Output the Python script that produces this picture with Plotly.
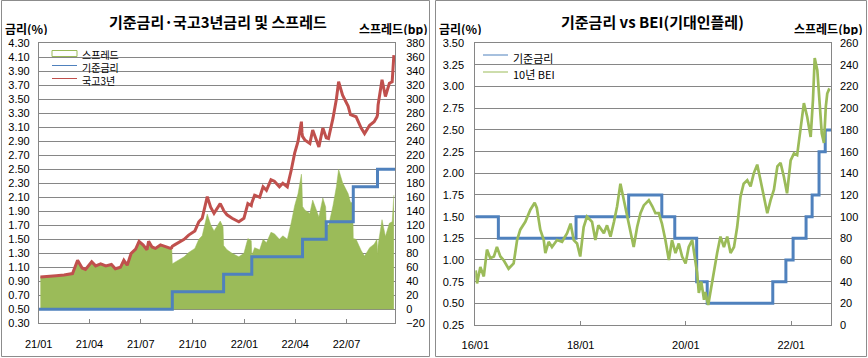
import bisect
import plotly.graph_objects as go

# ---------------- data ----------------
# Korean base rate history (change dates and levels)
base_dates = ["2016-01-01", "2016-06-09", "2017-11-30", "2018-11-30", "2019-07-18",
              "2019-10-16", "2020-03-16", "2020-05-28", "2021-08-26", "2021-11-25",
              "2022-01-14", "2022-04-14", "2022-05-26", "2022-07-13", "2022-08-25"]
base_levels = [1.50, 1.25, 1.50, 1.75, 1.50, 1.25, 0.75, 0.50, 0.75, 1.00,
               1.25, 1.50, 1.75, 2.25, 2.50]

# 국고3년 (%)
kr3y_dates = ["2021-01-04", "2021-01-14", "2021-02-01", "2021-02-15", "2021-03-02", "2021-03-11",
              "2021-03-19", "2021-03-25", "2021-04-05", "2021-04-12", "2021-04-21", "2021-04-30",
              "2021-05-10", "2021-05-17", "2021-05-26", "2021-06-01", "2021-06-07", "2021-06-14",
              "2021-06-22", "2021-06-28", "2021-07-05", "2021-07-12", "2021-07-15", "2021-07-21",
              "2021-07-27", "2021-08-05", "2021-08-13", "2021-08-23", "2021-08-25", "2021-08-26",
              "2021-08-30", "2021-09-07", "2021-09-16", "2021-09-24", "2021-10-05", "2021-10-12",
              "2021-10-18", "2021-10-27", "2021-11-02", "2021-11-08", "2021-11-19", "2021-11-24",
              "2021-11-25", "2021-12-01", "2021-12-10", "2021-12-22", "2021-12-31", "2022-01-07",
              "2022-01-13", "2022-01-14", "2022-01-19", "2022-01-28", "2022-02-03", "2022-02-09",
              "2022-02-17", "2022-02-23", "2022-03-04", "2022-03-10", "2022-03-18", "2022-03-25",
              "2022-03-31", "2022-04-06", "2022-04-12", "2022-04-13", "2022-04-14", "2022-04-18",
              "2022-04-27", "2022-05-02", "2022-05-09", "2022-05-13", "2022-05-20", "2022-05-25",
              "2022-05-26", "2022-05-30", "2022-06-07", "2022-06-13", "2022-06-17", "2022-06-24",
              "2022-07-04", "2022-07-08", "2022-07-12", "2022-07-13", "2022-07-18", "2022-07-27",
              "2022-08-02", "2022-08-11", "2022-08-19", "2022-08-24", "2022-08-25", "2022-08-26",
              "2022-09-02", "2022-09-08", "2022-09-15", "2022-09-20", "2022-09-23"]
kr3y_values = [0.96, 0.97, 0.98, 0.99, 1.01, 1.20,
               1.09, 1.07, 1.18, 1.12, 1.15, 1.12,
               1.14, 1.08, 1.10, 1.20, 1.13, 1.30,
               1.36, 1.47, 1.42, 1.35, 1.47, 1.39,
               1.37, 1.42, 1.40, 1.37, 1.38, 1.40,
               1.42, 1.46, 1.50, 1.56, 1.62, 1.75,
               1.80, 2.11, 1.96, 1.87, 2.01, 1.93,
               1.91, 1.85, 1.80, 1.75, 1.80, 2.01,
               1.98, 2.02, 2.13, 2.10, 2.25, 2.20,
               2.35, 2.33, 2.25, 2.30, 2.25, 2.49,
               2.73, 2.90, 3.18, 3.02, 2.97, 2.92,
               2.87, 3.06, 2.92, 2.82, 3.09, 2.96,
               2.95, 2.94, 3.23, 3.50, 3.75, 3.56,
               3.40, 3.28, 3.27, 3.26, 3.25, 3.09,
               3.01, 3.13, 3.18, 3.25, 3.28, 3.42,
               3.78, 3.54, 3.73, 3.75, 4.13]

# 10년 BEI (%)
bei_dates = ["2016-01-04", "2016-01-13", "2016-02-05", "2016-02-29", "2016-03-22", "2016-04-14",
             "2016-05-09", "2016-05-30", "2016-06-23", "2016-07-15", "2016-08-19", "2016-09-23",
             "2016-10-17", "2016-11-08", "2016-12-13", "2017-01-17", "2017-02-16", "2017-03-03",
             "2017-03-27", "2017-04-20", "2017-05-01", "2017-05-24", "2017-06-16", "2017-07-21",
             "2017-08-25", "2017-09-29", "2017-10-23", "2017-11-14", "2017-12-07", "2017-12-29",
             "2018-01-22", "2018-02-14", "2018-03-21", "2018-04-13", "2018-05-04", "2018-06-11",
             "2018-07-03", "2018-07-27", "2018-08-20", "2018-09-11", "2018-10-04", "2018-10-26",
             "2018-11-19", "2018-12-12", "2019-01-04", "2019-01-28", "2019-02-20", "2019-03-15",
             "2019-04-19", "2019-05-13", "2019-06-04", "2019-06-27", "2019-07-19", "2019-08-12",
             "2019-09-05", "2019-09-27", "2019-10-21", "2019-11-13", "2019-12-06", "2019-12-30",
             "2020-01-21", "2020-02-14", "2020-03-03", "2020-03-19", "2020-03-31", "2020-04-17",
             "2020-05-06", "2020-05-15", "2020-06-04", "2020-06-19", "2020-07-13", "2020-08-05",
             "2020-08-28", "2020-09-21", "2020-10-14", "2020-11-06", "2020-11-30", "2020-12-22",
             "2021-01-14", "2021-02-05", "2021-03-02", "2021-03-25", "2021-04-16", "2021-05-10",
             "2021-06-02", "2021-06-25", "2021-07-19", "2021-08-11", "2021-09-03", "2021-09-27",
             "2021-10-19", "2021-11-11", "2021-12-03", "2021-12-28", "2022-01-20", "2022-02-11",
             "2022-03-07", "2022-03-30", "2022-04-22", "2022-05-16", "2022-06-01", "2022-06-13",
             "2022-07-01", "2022-07-18", "2022-08-01", "2022-08-16", "2022-08-29", "2022-09-08",
             "2022-09-23"]
bei_values = [0.88, 0.73, 0.92, 0.81, 1.12, 1.02,
              1.04, 1.15, 1.04, 1.00, 0.90, 0.96,
              1.23, 1.35, 1.44, 1.58, 1.66, 1.60,
              1.35, 1.23, 1.08, 1.21, 1.15, 1.23,
              1.21, 1.31, 1.42, 1.23, 1.19, 1.04,
              1.38, 1.50, 1.44, 1.23, 1.40, 1.31,
              1.40, 1.27, 1.44, 1.62, 1.88, 1.71,
              1.54, 1.35, 1.15, 1.38, 1.54, 1.63,
              1.69, 1.62, 1.54, 1.54, 1.42, 1.23,
              1.00, 1.23, 1.08, 1.19, 1.04, 0.96,
              1.15, 1.23, 1.04, 0.85, 0.62, 0.75,
              0.54, 0.63, 0.48, 0.63, 0.85, 1.08,
              1.27, 1.15, 1.27, 1.08, 1.15, 1.38,
              1.73, 1.88, 1.92, 1.85, 2.00, 2.10,
              1.92, 1.73, 1.54, 1.69, 1.81, 2.08,
              2.12, 1.96, 1.77, 2.15, 2.23, 2.21,
              2.54, 2.81, 2.65, 2.42, 2.85, 3.33,
              3.19, 2.77, 2.46, 2.35, 2.77, 2.92,
              2.98]

left_range = ["2021-01-01", "2022-09-25"]
right_range = ["2016-01-01", "2022-10-04"]


def base_at(d):
    i = bisect.bisect_right(base_dates, d) - 1
    return base_levels[max(i, 0)]


# spread (bp) = 국고3년 - 기준금리
spread_bp = [round((v - base_at(d)) * 100, 1) for d, v in zip(kr3y_dates, kr3y_values)]


def base_step(start, end):
    xs = [start]
    ys = [base_at(start)]
    for d, lv in zip(base_dates, base_levels):
        if start < d <= end:
            xs.append(d)
            ys.append(lv)
    xs.append(end)
    ys.append(base_at(end))
    return xs, ys


lb_x, lb_y = base_step(*left_range)
rb_x, rb_y = base_step(*right_range)

# ---------------- style ----------------
W, H = 868, 358
FONT = "Noto Sans CJK KR"
NUMFONT = "Liberation Sans"
GRID = "#868686"
GREEN = "#9BBB59"
BLUE = "#4F81BD"
RED = "#C0504D"


def px(x):
    return x / W


def py(y):
    return 1 - y / H


fig = go.Figure()

# left chart: spread area on the base (bp) axis so lines on the overlay axis sit on top
fig.add_trace(go.Scatter(x=kr3y_dates, y=spread_bp, name="스프레드", xaxis="x", yaxis="y",
                         mode="lines", line=dict(color=GREEN, width=0.5), fill="tozeroy",
                         fillcolor=GREEN))
fig.add_trace(go.Scatter(x=lb_x, y=lb_y, name="기준금리", xaxis="x", yaxis="y2", mode="lines",
                         line=dict(color=BLUE, width=3, shape="hv")))
fig.add_trace(go.Scatter(x=kr3y_dates, y=kr3y_values, name="국고3년", xaxis="x", yaxis="y2",
                         mode="lines", line=dict(color=RED, width=3)))

# right chart
fig.add_trace(go.Scatter(x=rb_x, y=rb_y, name="기준금리", xaxis="x2", yaxis="y3", mode="lines",
                         line=dict(color=BLUE, width=3, shape="hv")))
fig.add_trace(go.Scatter(x=bei_dates, y=bei_values, name="10년 BEI", xaxis="x2", yaxis="y3",
                         mode="lines", line=dict(color=GREEN, width=2.7)))
fig.add_trace(go.Scatter(x=[None], y=[None], xaxis="x2", yaxis="y4", mode="lines",
                         showlegend=False, hoverinfo="skip"))

tickfont = dict(family=NUMFONT, size=11, color="#000000")
common_x = dict(type="date", tickformat="%y/%m", ticks="inside", ticklen=4, tickcolor=GRID,
                showgrid=False, showline=True, mirror=True, linecolor=GRID, linewidth=1,
                tickfont=tickfont, ticklabelstandoff=10, automargin=False)
main_y = dict(showgrid=True, gridcolor=GRID, gridwidth=1, zeroline=False, showline=True,
              mirror=True, linecolor=GRID, linewidth=1, tickfont=tickfont, ticks="",
              ticklabelstandoff=8, automargin=False)
sec_y = dict(showgrid=False, zeroline=False, tickfont=tickfont, ticklabelstandoff=8,
             automargin=False, ticks="")

left_dom = [py(323.3), py(43.3)]
right_dom = [py(325), py(43.3)]

fig.update_layout(
    width=W, height=H,
    autosize=False,
    margin=dict(l=0, r=0, t=0, b=0, pad=0, autoexpand=False),
    paper_bgcolor="white", plot_bgcolor="white",
    showlegend=False,
    font=dict(family=FONT, color="#000000"),
    xaxis=dict(domain=[px(38.7), px(395)], range=left_range, tick0="2021-01-01", dtick="M3",
               anchor="y", **common_x),
    # right-hand spread axis (bp) carries the grid
    yaxis=dict(domain=left_dom, side="right", range=[-20, 380], tick0=0, dtick=20,
               anchor="x", **main_y),
    # left-hand rate axis (%)
    yaxis2=dict(overlaying="y", side="left", anchor="x", range=[0.3, 4.3], tick0=0.3,
                dtick=0.2, tickformat=".2f", **sec_y),
    xaxis2=dict(domain=[px(475.3), px(831)], range=right_range, tick0="2016-01-01", dtick="M24",
                anchor="y3", **common_x),
    yaxis3=dict(domain=right_dom, range=[0.25, 3.5], tick0=0.25, dtick=0.25,
                tickformat=".2f", anchor="x2", **main_y),
    yaxis4=dict(overlaying="y3", side="right", anchor="x2", range=[0, 260], tick0=0, dtick=20,
                **sec_y),
)

shapes = [
    dict(type="rect", xref="paper", yref="paper", x0=px(1.5), x1=px(429.5), y0=py(356.5),
         y1=py(0.5), line=dict(color="#8C8C8C", width=1), layer="below"),
    dict(type="rect", xref="paper", yref="paper", x0=px(435.5), x1=px(866.5), y0=py(356.5),
         y1=py(0.5), line=dict(color="#8C8C8C", width=1), layer="below"),
    # left legend swatches
    dict(type="rect", xref="paper", yref="paper", x0=px(52), x1=px(77), y0=py(56.5), y1=py(50.5),
         line=dict(color=GREEN, width=1), fillcolor="rgba(255,255,255,0)"),
    dict(type="line", xref="paper", yref="paper", x0=px(52), x1=px(77), y0=py(65.5), y1=py(65.5),
         line=dict(color=BLUE, width=1)),
    dict(type="line", xref="paper", yref="paper", x0=px(52), x1=px(77), y0=py(78.5), y1=py(78.5),
         line=dict(color=RED, width=1)),
    # right legend swatches
    dict(type="line", xref="paper", yref="paper", x0=px(483), x1=px(508), y0=py(55), y1=py(55),
         line=dict(color=BLUE, width=1)),
    dict(type="line", xref="paper", yref="paper", x0=px(483), x1=px(508), y0=py(72), y1=py(72),
         line=dict(color=GREEN, width=1)),
]
fig.update_layout(shapes=shapes)


def ann(text, x, y, size, bold=False, xanchor="left", height=None):
    t = f"<b>{text}</b>" if bold else text
    a = dict(text=t, x=px(x), y=py(y), xref="paper", yref="paper", showarrow=False,
             xanchor=xanchor, yanchor="middle", align="left",
             font=dict(family=FONT, size=size, color="#000000"))
    if height:
        a["height"] = height
    return a


legend_left = ["스프레드", "기준금리", "국고3년"]

annotations = [
    ann("기준금리·국고3년금리 및 스프레드", 218, 22, 15, True, "center"),
    ann("금리(%)", 3, 28, 12, True, height=14),
    ann("스프레드(bp)", 430, 28, 12, True, "right", height=14),
    ann("기준금리 vs BEI(기대인플레)", 652, 22, 15, True, "center"),
    ann("금리(%)", 437, 28, 12, True, height=14),
    ann("스프레드(bp)", 865, 28, 12, True, "right", height=14),
    ann("<br>".join(legend_left), 80, 67, 10),
    ann("기준금리", 511, 58, 11, height=14),
    ann("10년 BEI", 511, 74, 11, height=14),
]
fig.update_layout(annotations=annotations)

fig.write_html("out.html",
               config={"displayModeBar": False},
               post_script="document.body.style.margin='0';document.body.style.padding='0';")
